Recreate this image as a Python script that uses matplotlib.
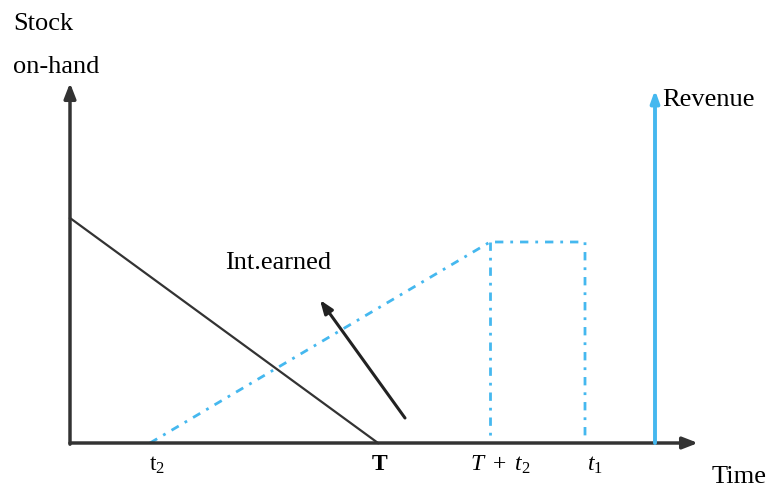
import matplotlib.pyplot as plt

plt.rcParams['font.family'] = ['Liberation Serif', 'DejaVu Serif']
plt.rcParams['mathtext.fontset'] = 'custom'
plt.rcParams['mathtext.rm'] = 'Liberation Serif'
plt.rcParams['mathtext.it'] = 'Liberation Serif:italic'
plt.rcParams['mathtext.bf'] = 'Liberation Serif:bold'

# time points on the axis (origin at 0)
tick_pos = [80, 308, 420, 515]
tick_labels = ['t$_2$', r'$\mathbf{T}$', r'$T\ +\ t_2$', '$t_1$']
tick_shift = [7, 2, 10, 10]

# stock on-hand line (falls from initial stock to 0 at T)
stock_x = [0, 308]
stock_y = [225, 0]

# interest earned (dash-dot light blue)
int_x = [80, 420, 515, 515]
int_y = [0, 201, 201, 0]
int_drop_x = [420, 420]
int_drop_y = [201, 0]

revenue_x = 585
revenue_top = 353

axis_color = '#333333'
blue = '#45b8ef'

fig = plt.figure(figsize=(7.71, 4.93), dpi=100)
ax = fig.add_axes([0, 0, 1, 1])
ax.set_xlim(-70, 701)
ax.set_ylim(-50, 443)
ax.axis('off')

# axes with arrowheads
ax.annotate('', xy=(628, 0), xytext=(0, 0),
            arrowprops=dict(arrowstyle='-|>,head_length=0.9,head_width=0.35',
                            color=axis_color, lw=2.5, shrinkA=0, shrinkB=0))
ax.annotate('', xy=(0, 360), xytext=(0, -1.2),
            arrowprops=dict(arrowstyle='-|>,head_length=0.9,head_width=0.35',
                            color=axis_color, lw=2.5, shrinkA=0, shrinkB=0))

ax.plot(stock_x, stock_y, color='#333333', lw=1.6)
ax.plot(int_x, int_y, color=blue, lw=2, linestyle=(0, (3, 2.5, 1, 2.5)))
ax.plot(int_drop_x, int_drop_y, color=blue, lw=2, linestyle=(0, (3, 2.5, 1, 2.5)))

# revenue arrow
ax.annotate('', xy=(revenue_x, revenue_top), xytext=(revenue_x, 0),
            arrowprops=dict(arrowstyle='-|>,head_length=0.7,head_width=0.25',
                            color=blue, lw=2.8, shrinkA=0, shrinkB=0))

# int.earned arrow
ax.annotate('', xy=(250, 143), xytext=(335, 25),
            arrowprops=dict(arrowstyle='-|>,head_length=0.8,head_width=0.3',
                            color='#222222', lw=2.2, shrinkA=0, shrinkB=0))

fs = 19
ax.text(-57, 419, 'Stock', fontsize=fs, va='center', ha='left')
ax.text(-57, 376, 'on-hand', fontsize=fs, va='center', ha='left')
ax.text(155, 180, 'Int.earned', fontsize=fs, va='center', ha='left')
ax.text(592, 343, 'Revenue', fontsize=fs, va='center', ha='left')
ax.text(642, -34, 'Time', fontsize=fs, va='center', ha='left')

for x, lab, dx in zip(tick_pos, tick_labels, tick_shift):
    ax.text(x + dx, -22, lab, fontsize=17, va='center', ha='center')

fig.savefig('out.png', dpi=100)
